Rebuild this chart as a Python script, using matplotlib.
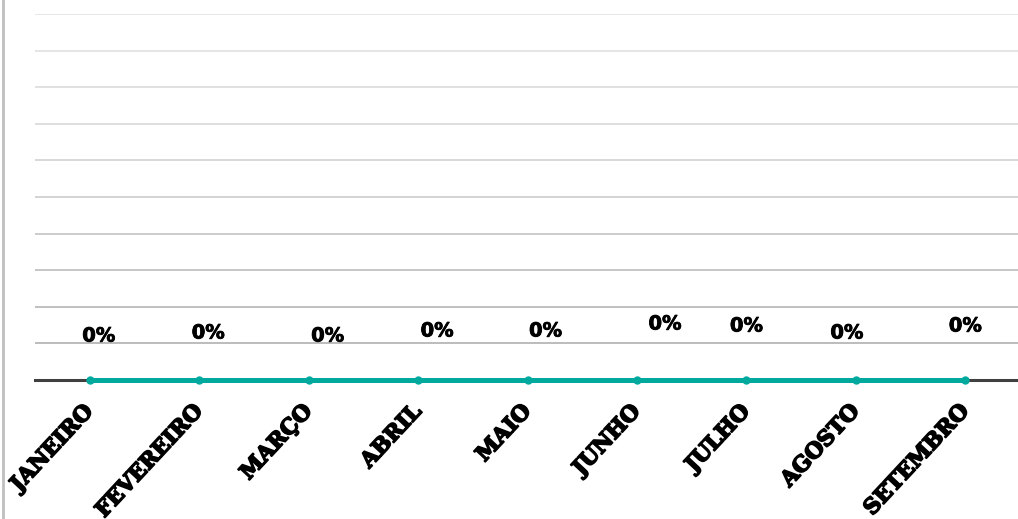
import matplotlib.pyplot as plt
import matplotlib.patheffects as pe
import numpy as np

# months and monthly values (all zero in the source)
months = ['JANEIRO', 'FEVEREIRO', 'MARÇO', 'ABRIL', 'MAIO',
          'JUNHO', 'JULHO', 'AGOSTO', 'SETEMBRO']
values = [0, 0, 0, 0, 0, 0, 0, 0, 0]
value_labels = ['0%', '0%', '0%', '0%', '0%', '0%', '0%', '0%', '0%']

# manual placement of the value labels (pixels from the point)
label_dx = [9, 9, 19, 19, 18, 28, 0, -9, 0]
label_dy = [44, 47, 44, 49, 49, 56, 54, 47, 54]

fig = plt.figure(figsize=(10.18, 5.19), dpi=100)
ax = fig.add_axes([35 / 1018, 1 - 380 / 519, 985 / 1018, 366 / 519])

x = np.arange(len(months))
ax.plot(x, values, color='#00A99D', linewidth=3.6, marker='o',
        markersize=5, zorder=5, clip_on=False)

for xi, v, lab, dx, dy in zip(x, values, value_labels, label_dx, label_dy):
    ax.annotate(lab, (xi, v), xytext=(dx, dy), textcoords='offset pixels',
                ha='center', va='center', fontsize=14, fontweight='bold',
                family='DejaVu Sans', color='black',
                path_effects=[pe.withStroke(linewidth=0.6, foreground='black')])

ax.set_xlim(-0.5, len(months) - 0.5)
ax.set_ylim(0, 10)
ax.set_yticks(np.arange(1, 11))
ax.set_yticklabels([])
ax.tick_params(axis='y', length=0)
ax.yaxis.grid(True, linewidth=1.2)
ax.set_axisbelow(True)
# gridlines fade from darker near the axis to lighter at the top
grid_cols = ['#b0b0b0', '#b4b4b4', '#bcbcbc', '#c4c4c4', '#cccccc',
             '#d2d2d2', '#d8d8d8', '#dcdcdc', '#e0e0e0', '#e2e2e2']
for gl, c in zip(ax.get_ygridlines(), grid_cols):
    gl.set_color(c)

ax.set_xticks(x)
ax.set_xticklabels(months, rotation=47, ha='right', va='center',
                   rotation_mode='anchor', fontsize=15.5, fontweight='bold',
                   family='DejaVu Serif')
for t in ax.get_xticklabels():
    t.set_path_effects([pe.withStroke(linewidth=1.2, foreground='black')])
ax.tick_params(axis='x', length=0, pad=20)

for s in ['top', 'right', 'left']:
    ax.spines[s].set_visible(False)
ax.spines['bottom'].set_color('#404040')
ax.spines['bottom'].set_linewidth(2.2)

# chart area border on the left
fig.add_artist(plt.Line2D([2.5 / 1018, 2.5 / 1018], [0, 1], color='#bfbfbf',
                          linewidth=2, transform=fig.transFigure))

fig.savefig('out.png', dpi=100)
